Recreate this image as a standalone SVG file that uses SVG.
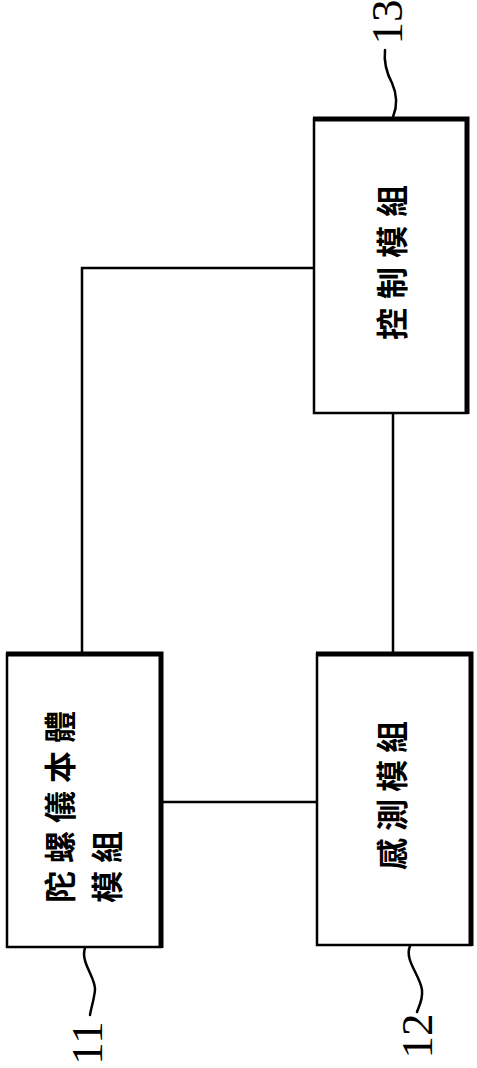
<svg xmlns="http://www.w3.org/2000/svg" width="477" height="1068" viewBox="0 0 477 1068">
<style>
.box{fill:#fff;stroke:#000;stroke-width:2.5}
.shadow{fill:none;stroke:#000;stroke-width:5;stroke-linejoin:miter}
.conn{fill:none;stroke:#000;stroke-width:2.5}
.lead{fill:none;stroke:#000;stroke-width:2.5;stroke-linecap:round}
.cjk{font-family:"Noto Sans CJK TC","Noto Sans CJK SC",sans-serif;font-size:32px;font-weight:bold;fill:#000;dominant-baseline:central}
.num{font-family:"Liberation Serif",serif;font-size:45px;fill:#000;text-anchor:middle}
</style>
<rect width="477" height="1068" fill="#fff"/>
<g id="connectors">
<polyline class="conn" points="82,653 82,268 314,268"/>
<line class="conn" x1="393" y1="413" x2="393" y2="653"/>
<line class="conn" x1="161" y1="802" x2="317" y2="802"/>
</g>
<g id="node-11">
<rect class="box" x="7" y="654" width="154" height="293"/>
<polyline class="shadow" points="6,654 161,654 161,948"/>
<text class="cjk" letter-spacing="8" transform="translate(58,903) rotate(-90)">陀螺儀本體</text>
<text class="cjk" letter-spacing="8" transform="translate(105,903) rotate(-90)">模組</text>
<path class="lead" d="M85,948 C80,962 96,978 95,990 C94,1000 91,1008 90,1015"/>
<text class="num" transform="translate(102,1043) rotate(-90)">11</text>
</g>
<g id="node-12">
<rect class="box" x="317" y="654" width="154" height="291"/>
<polyline class="shadow" points="316,654 471,654 471,946"/>
<text class="cjk" letter-spacing="7" transform="translate(390,870) rotate(-90)">感測模組</text>
<path class="lead" d="M410,946 C404,960 420,975 422,990 C423,1000 419,1006 417,1012"/>
<text class="num" transform="translate(432,1036) rotate(-90)">12</text>
</g>
<g id="node-13">
<rect class="box" x="314" y="119" width="153" height="294"/>
<polyline class="shadow" points="313,119 467,119 467,414"/>
<text class="cjk" letter-spacing="9" transform="translate(390,340) rotate(-90)">控制模組</text>
<path class="lead" d="M393,117 C398,105 396,92 392,83 C386,72 384,60 385,50"/>
<text class="num" transform="translate(402,22) rotate(-90)">13</text>
</g>
</svg>
